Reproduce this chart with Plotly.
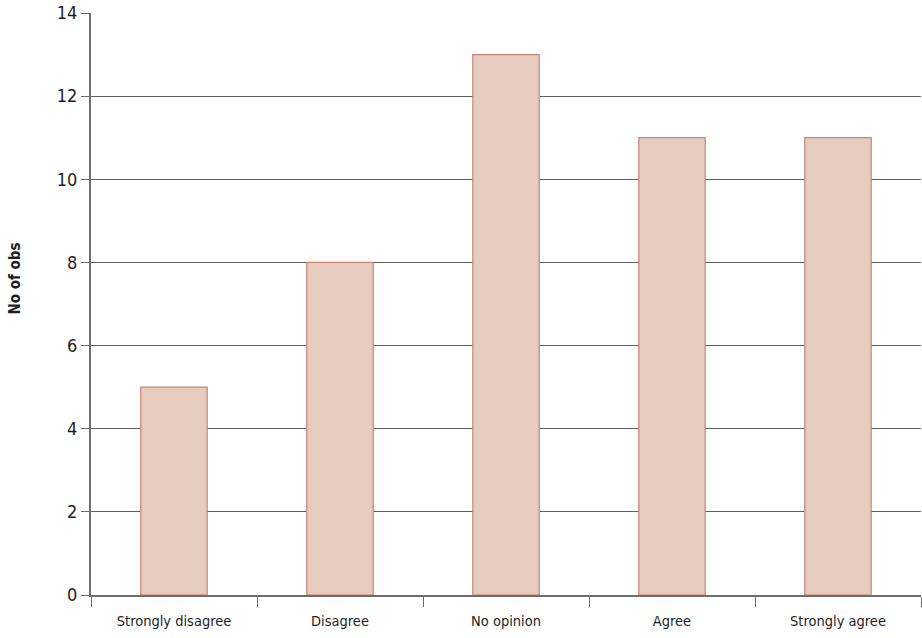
import plotly.graph_objects as go

categories = ["Strongly disagree", "Disagree", "No opinion", "Agree", "Strongly agree"]
counts = [5, 8, 13, 11, 11]
y_ticks = [0, 2, 4, 6, 8, 10, 12, 14]

FONT = "DejaVu Sans Condensed, Liberation Sans Narrow, sans-serif"
AXIS_GREY = "#6e6e6e"
TEXT = "#1e1e1e"

fig = go.Figure(
    go.Bar(
        x=categories,
        y=counts,
        width=0.4,
        marker=dict(color="#e6cbbf", line=dict(color="#c98470", width=1.2)),
    )
)

fig.update_layout(
    width=922,
    height=638,
    margin=dict(l=91, r=1, t=13, b=43),
    plot_bgcolor="white",
    paper_bgcolor="white",
    showlegend=False,
    font=dict(family=FONT, color=TEXT),
)

fig.update_xaxes(
    type="category",
    range=[-0.5, 4.5],
    tickson="boundaries",
    ticks="outside",
    ticklen=10,
    tickwidth=1.2,
    tickcolor=AXIS_GREY,
    showline=True,
    linecolor=AXIS_GREY,
    linewidth=2,
    showgrid=False,
    ticklabelstandoff=12,
    tickfont=dict(size=14.5, family=FONT, color=TEXT),
)

fig.update_yaxes(
    range=[0, 14],
    tickvals=y_ticks,
    ticks="outside",
    ticklen=8,
    tickwidth=1.2,
    tickcolor=AXIS_GREY,
    showline=True,
    linecolor=AXIS_GREY,
    linewidth=2,
    showgrid=True,
    gridcolor="#5e5e5e",
    gridwidth=1.3,
    zeroline=False,
    tickfont=dict(size=18, family=FONT, color=TEXT),
)

# Axis title placed as an annotation, slightly above the vertical centre
fig.add_annotation(
    text="<b>No of obs</b>",
    textangle=-90,
    xref="paper",
    yref="paper",
    x=-0.092,
    y=0.543,
    xanchor="center",
    yanchor="middle",
    showarrow=False,
    font=dict(size=15, family=FONT, color=TEXT),
)

fig.write_html("out.html")
